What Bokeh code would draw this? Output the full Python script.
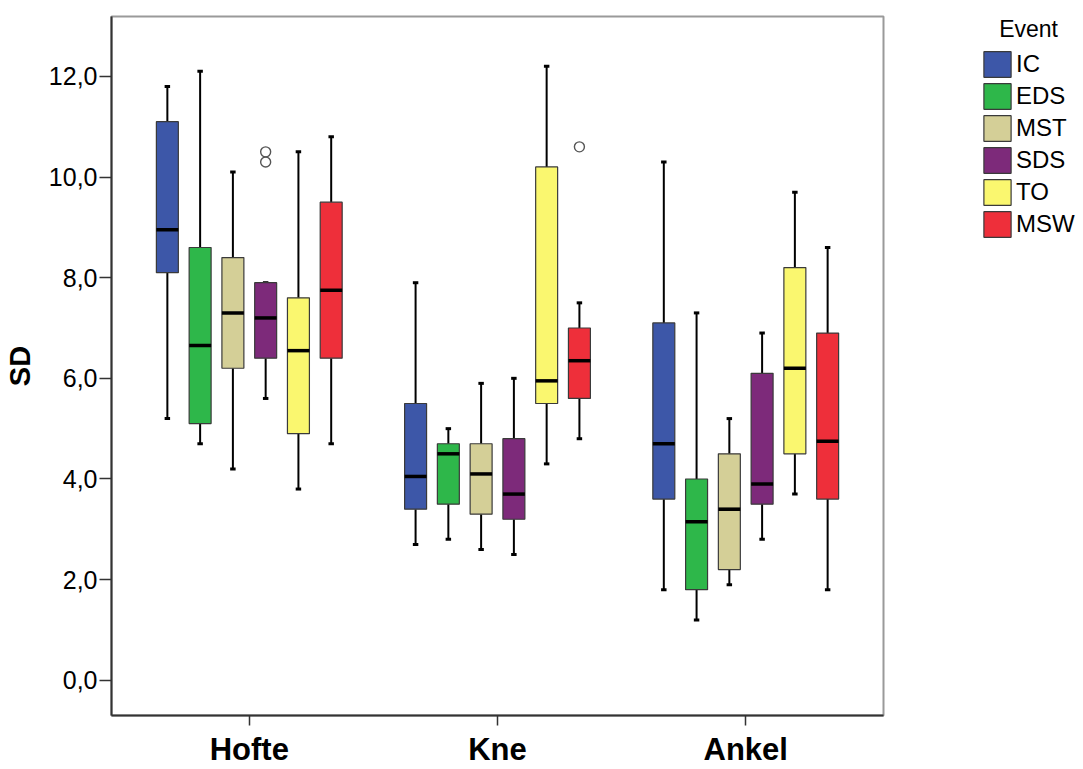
from bokeh.plotting import figure
from bokeh.layouts import row
from bokeh.models import (FactorRange, Range1d, CustomJSTickFormatter, FixedTicker,
                          ColumnDataSource, Legend, LegendItem)
from bokeh.transform import dodge
from bokeh.embed import file_html
from bokeh.resources import INLINE

# ---- data ----
regions = ["Hofte", "Kne", "Ankel"]
events = ["IC", "EDS", "MST", "SDS", "TO", "MSW"]
colors = ["#3D57A8", "#2EB74A", "#D4CF97", "#7D2A7A", "#FAF76F", "#EE2F3A"]

lower_whisker = {"IC": [5.2, 2.7, 1.8], "EDS": [4.7, 2.8, 1.2], "MST": [4.2, 2.6, 1.9],
                 "SDS": [5.6, 2.5, 2.8], "TO": [3.8, 4.3, 3.7], "MSW": [4.7, 4.8, 1.8]}
q1 = {"IC": [8.1, 3.4, 3.6], "EDS": [5.1, 3.5, 1.8], "MST": [6.2, 3.3, 2.2],
      "SDS": [6.4, 3.2, 3.5], "TO": [4.9, 5.5, 4.5], "MSW": [6.4, 5.6, 3.6]}
median = {"IC": [8.95, 4.05, 4.7], "EDS": [6.65, 4.5, 3.15], "MST": [7.3, 4.1, 3.4],
          "SDS": [7.2, 3.7, 3.9], "TO": [6.55, 5.95, 6.2], "MSW": [7.75, 6.35, 4.75]}
q3 = {"IC": [11.1, 5.5, 7.1], "EDS": [8.6, 4.7, 4.0], "MST": [8.4, 4.7, 4.5],
      "SDS": [7.9, 4.8, 6.1], "TO": [7.6, 10.2, 8.2], "MSW": [9.5, 7.0, 6.9]}
upper_whisker = {"IC": [11.8, 7.9, 10.3], "EDS": [12.1, 5.0, 7.3], "MST": [10.1, 5.9, 5.2],
                 "SDS": [7.9, 6.0, 6.9], "TO": [10.5, 12.2, 9.7], "MSW": [10.8, 7.5, 8.6]}

outlier_region = ["Hofte", "Hofte", "Kne"]
outlier_event = ["SDS", "SDS", "MSW"]
outlier_value = [10.5, 10.3, 10.6]

y_ticks = [0, 2, 4, 6, 8, 10, 12]

# ---- main figure ----
FONT = "Liberation Sans"
p = figure(x_range=FactorRange(factors=regions, range_padding=0.0367, range_padding_units="percent"),
           y_range=Range1d(-0.70, 13.19),
           width=885, height=769,
           min_border_left=111, min_border_top=15, min_border_right=2, min_border_bottom=51,
           output_backend="svg", toolbar_location=None)

p.background_fill_color = "white"
p.border_fill_color = "white"
p.xgrid.visible = False
p.ygrid.visible = False
p.outline_line_color = "#9a9a9a"
p.outline_line_width = 2

for ax in (p.xaxis[0], p.yaxis[0]):
    ax.axis_line_color = "#333333"
    ax.axis_line_width = 2
    ax.major_tick_line_color = "#333333"
    ax.major_tick_line_width = 1.5
    ax.major_tick_in = 0
    ax.minor_tick_line_color = None
    ax.major_label_text_color = "#000000"
    ax.major_label_text_font = FONT

p.yaxis.ticker = FixedTicker(ticks=y_ticks)
p.yaxis.formatter = CustomJSTickFormatter(code="return tick.toFixed(1).replace('.', ',');")
p.yaxis.major_tick_out = 12
p.yaxis.major_label_standoff = 2
p.yaxis.major_label_text_font_size = "25px"
p.yaxis.axis_label = "SD"
p.yaxis.axis_label_text_font = FONT
p.yaxis.axis_label_text_font_style = "bold"
p.yaxis.axis_label_text_font_size = "29px"
p.yaxis.axis_label_text_color = "#000000"
p.yaxis.axis_label_standoff = 10

p.xaxis.major_tick_out = 10
p.xaxis.major_label_standoff = 6
p.xaxis.major_label_text_font_size = "31px"
p.xaxis.major_label_text_font_style = "bold"

# ---- legend panel (separate small figure to the right) ----
lg = figure(width=198, height=769, x_range=Range1d(0, 1), y_range=Range1d(0, 1),
            min_border_left=95, min_border_top=16, min_border_right=0, min_border_bottom=0,
            x_axis_type=None, y_axis_type=None, output_backend="svg", toolbar_location=None)
lg.outline_line_color = None
lg.xgrid.visible = False
lg.ygrid.visible = False
lg.background_fill_color = "white"
lg.border_fill_color = "white"

n = len(events)
step = 0.132
box_w = 0.0885
cap_w = 0.022
items = []
for i, ev in enumerate(events):
    off = (i - (n - 1) / 2) * step
    src = ColumnDataSource(dict(region=regions, lo=lower_whisker[ev], q1=q1[ev], med=median[ev],
                                q3=q3[ev], hi=upper_whisker[ev]))
    xc = dodge("region", off, range=p.x_range)
    p.segment(x0=xc, y0="q3", x1=xc, y1="hi", source=src, line_color="black", line_width=2)
    p.segment(x0=xc, y0="lo", x1=xc, y1="q1", source=src, line_color="black", line_width=2)
    xl = dodge("region", off - cap_w / 2, range=p.x_range)
    xr = dodge("region", off + cap_w / 2, range=p.x_range)
    p.segment(x0=xl, y0="hi", x1=xr, y1="hi", source=src, line_color="black", line_width=3)
    p.segment(x0=xl, y0="lo", x1=xr, y1="lo", source=src, line_color="black", line_width=3)
    p.vbar(x=xc, width=box_w, bottom="q1", top="q3", source=src,
           fill_color=colors[i], line_color="#3a3a3a", line_width=1.2)
    ml = dodge("region", off - box_w / 2, range=p.x_range)
    mr = dodge("region", off + box_w / 2, range=p.x_range)
    p.segment(x0=ml, y0="med", x1=mr, y1="med", source=src, line_color="black", line_width=3.5)
    o_reg = [rg for rg, e in zip(outlier_region, outlier_event) if e == ev]
    o_val = [v for v, e in zip(outlier_value, outlier_event) if e == ev]
    if o_reg:
        osrc = ColumnDataSource(dict(region=o_reg, val=o_val))
        p.scatter(x=xc, y="val", source=osrc, marker="circle", size=10,
                  fill_color=None, line_color="#555555", line_width=1.4)
    # hidden twin of the box glyph, only used for the legend swatch
    r = lg.vbar(x=xc, width=box_w, bottom="q1", top="q3", source=src, visible=False,
                fill_color=colors[i], line_color="#3a3a3a", line_width=1.2)
    items.append(LegendItem(label=ev, renderers=[r]))

legend = Legend(items=items, location="top_left", padding=0, margin=0, spacing=0,
                glyph_width=34, glyph_height=32, label_height=32, label_standoff=2,
                label_text_font=FONT, label_text_font_size="24px", label_text_color="#000000",
                title="\u00a0\u00a0\u00a0Event", title_text_font=FONT, title_text_font_size="23px",
                title_text_font_style="normal", title_text_color="#000000", title_standoff=5,
                background_fill_alpha=0, border_line_color=None)
lg.add_layout(legend)

layout = row(p, lg)
open("out.html", "w").write(file_html(layout, INLINE))
